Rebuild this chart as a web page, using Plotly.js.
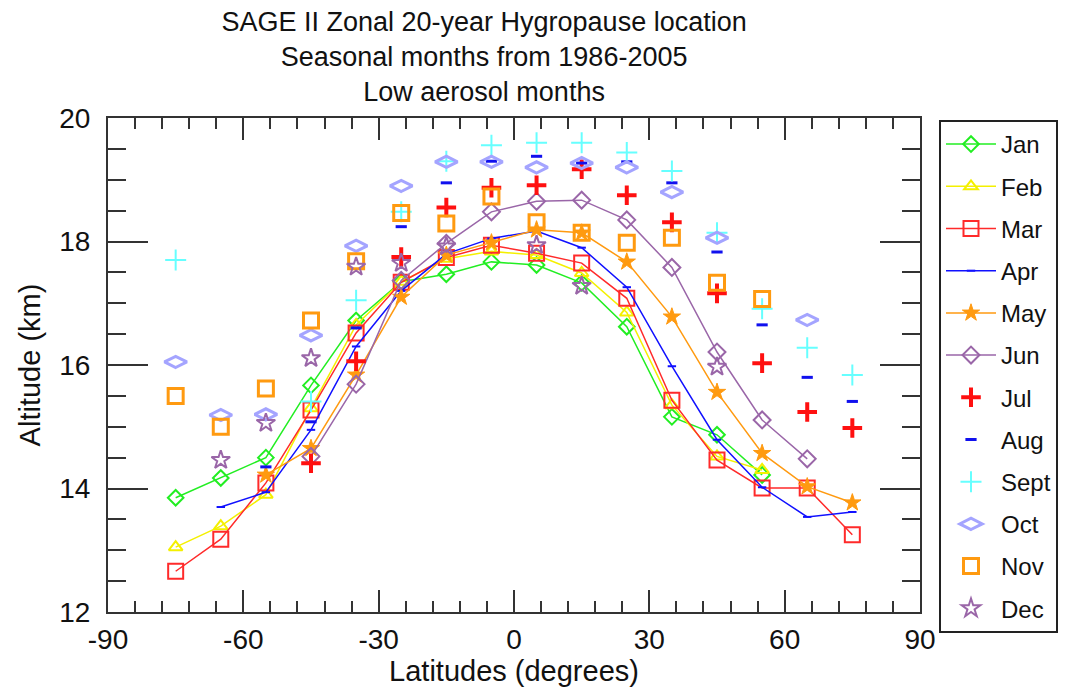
<!DOCTYPE html>
<html>
<head>
<meta charset="utf-8">
<script src="https://cdn.plot.ly/plotly-3.0.1.min.js"></script>
<style>html,body{margin:0;padding:0;background:#fff;}#chart{width:1071px;height:691px;}</style>
</head>
<body>
<div id="chart"></div>
<script>
const latitudes = [-75,-65,-55,-45,-35,-25,-15,-5,5,15,25,35,45,55,65,75];
const monthNames = ["Jan","Feb","Mar","Apr","May","Jun","Jul","Aug","Sept","Oct","Nov","Dec"];
const jan  = [13.85,14.17,14.50,15.67,16.72,17.35,17.47,17.67,17.62,17.33,16.62,15.16,14.87,14.22,null,null];
const feb  = [13.05,13.39,13.90,15.30,16.65,17.35,17.72,17.84,17.78,17.49,16.85,15.35,14.52,14.30,null,null];
const mar  = [12.66,13.18,14.09,15.27,16.52,17.34,17.74,17.94,17.81,17.65,17.08,15.43,14.46,14.01,14.01,13.25];
const apr  = [null,13.70,13.94,14.95,16.30,17.20,17.80,18.05,18.17,17.90,17.26,15.98,14.79,14.02,13.54,13.62];
const may  = [null,null,14.22,14.65,15.84,17.10,17.78,17.98,18.19,18.14,17.67,16.78,15.56,14.57,14.03,13.77];
const jun  = [null,null,null,14.52,15.69,17.37,17.97,18.48,18.65,18.67,18.35,17.58,16.21,15.11,14.48,null];
const jul  = [null,null,null,14.41,16.06,17.75,18.55,18.87,18.91,19.17,18.75,18.31,17.16,16.03,15.24,14.98];
const aug  = [null,null,14.35,15.08,16.60,18.24,18.95,19.30,19.38,19.27,19.29,18.95,17.83,16.65,15.80,15.41];
const sept = [17.70,null,null,15.41,17.05,18.48,19.30,19.56,19.60,19.60,19.44,19.14,18.14,16.91,16.28,15.84];
const oct  = [16.05,15.19,15.20,16.48,17.93,18.90,19.29,19.29,19.20,19.27,19.20,18.80,18.06,null,16.73,null];
const nov  = [15.50,15.00,15.62,16.72,17.68,18.46,18.29,18.73,18.31,18.14,17.98,18.06,17.33,17.07,null,null];
const dec  = [null,14.46,15.06,16.11,17.59,17.65,17.92,null,17.94,17.28,null,null,15.97,null,null,null];
const xTicks = [-90,-60,-30,0,30,60,90];
const xTickText = ["-90","-60","-30","0","30","60","90"];
const yTicks = [12,14,16,18,20];
const yTickText = ["12","14","16","18","20"];

const series = [jan,feb,mar,apr,may,jun,jul,aug,sept,oct,nov,dec];
const styles = [
  {mode:'lines+markers', color:'#22ee22', symbol:'diamond-open', size:12, lw:2},
  {mode:'lines+markers', color:'#f4f000', symbol:'triangle-up-open', size:12, lw:2},
  {mode:'lines+markers', color:'#ff2a2a', symbol:'square-open', size:15, lw:2},
  {mode:'lines+markers', color:'#1010ff', symbol:'line-ew', size:6, lw:2},
  {mode:'lines+markers', color:'#ff9a10', symbol:'star', size:13, lw:1},
  {mode:'lines+markers', color:'#9a66a8', symbol:'diamond-open', size:13, lw:2},
  {mode:'markers', color:'#ff1010', symbol:'cross-thin-open', size:14, lw:4},
  {mode:'markers', color:'#1010ee', symbol:'line-ew-open', size:8, lw:3},
  {mode:'markers', color:'#66ffff', symbol:'cross-thin-open', size:15, lw:2},
  {mode:'markers', color:'#a4a4ff', symbol:'diamond-wide-open', size:16, lw:3},
  {mode:'markers', color:'#ff9a10', symbol:'square-open', size:15, lw:3},
  {mode:'markers', color:'#9a66a8', symbol:'star-open', size:14, lw:2}
];

const traces = series.map((vals, i) => ({
  type:'scatter', x: latitudes, y: vals, name: monthNames[i],
  mode: styles[i].mode, connectgaps: true, legendgroup: 'g'+i,
  line: {color: styles[i].color, width: 1.5},
  marker: {symbol: styles[i].symbol, size: styles[i].size, color: styles[i].color,
           line: {color: styles[i].color, width: styles[i].lw}}
}));

const FONT = 'Liberation Sans, Arial, sans-serif';
const axisCommon = {
  showgrid:false, zeroline:false, showline:true, linecolor:'#333', linewidth:2,
  mirror:'allticks', ticks:'inside', tickcolor:'#333', tickwidth:2, tickmode:'array',
  automargin:false,
  tickfont:{size:28, color:'#111', family:FONT}
};

const layout = {
  width:1071, height:691,
  margin:{l:108, r:151, t:118, b:79, autoexpand:false},
  paper_bgcolor:'#fff', plot_bgcolor:'#fff',
  font:{family:FONT, color:'#111'},
  title:{text:'SAGE II Zonal 20-year Hygropause location<br>Seasonal months from 1986-2005<br>Low aerosol months',
         x:0.452, xref:'container', xanchor:'center', y:0.955, yref:'container', yanchor:'top',
         font:{size:27, color:'#111'}, automargin:false},
  xaxis: Object.assign({}, axisCommon, {
    range:[-90,90], tickvals:xTicks, ticktext:xTickText, ticklen:22, ticklabelstandoff:1,
    minor:{dtick:6, ticklen:11, tickcolor:'#333', tickwidth:2, ticks:'inside'},
    title:{text:'Latitudes (degrees)', font:{size:29}, standoff:1}
  }),
  yaxis: Object.assign({}, axisCommon, {
    range:[12,20], tickvals:yTicks, ticktext:yTickText, ticklen:40, ticklabelstandoff:10,
    minor:{dtick:0.5, ticklen:18, tickcolor:'#333', tickwidth:2, ticks:'inside'},
    title:{text:'Altitude (km)', font:{size:29}, standoff:10}
  }),
  showlegend:true,
  legend:{x:1.0234, xanchor:'left', y:0.996, yanchor:'top',
          maxheight:560,
          bordercolor:'#222', borderwidth:2, bgcolor:'#fff',
          font:{size:24, color:'#111'}, tracegroupgap:8, itemwidth:50}
};

Plotly.newPlot('chart', traces, layout, {displayModeBar:false, staticPlot:true});
</script>
</body>
</html>
